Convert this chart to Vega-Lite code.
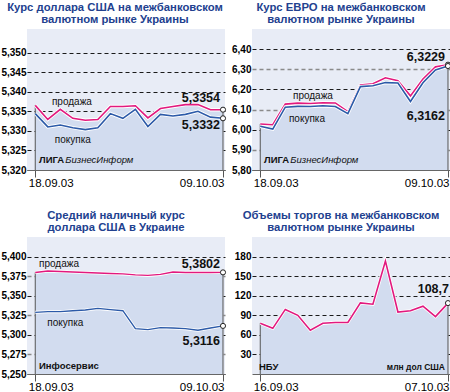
{
"$schema": "https://vega.github.io/schema/vega-lite/v6.json",
"padding": {"left": 0, "top": 1, "right": 0, "bottom": 0},
"background": "white",
"datasets": {
"usd": [
{"i":0,"d":"18.09.03","sale":5.3365,"buy":5.3344},
{"i":1,"d":"19.09.03","sale":5.3329,"buy":5.3310},
{"i":2,"d":"22.09.03","sale":5.3355,"buy":5.3315},
{"i":3,"d":"23.09.03","sale":5.3332,"buy":5.3308},
{"i":4,"d":"24.09.03","sale":5.3327,"buy":5.3303},
{"i":5,"d":"25.09.03","sale":5.3329,"buy":5.3308},
{"i":6,"d":"26.09.03","sale":5.3362,"buy":5.3344},
{"i":7,"d":"29.09.03","sale":5.3362,"buy":5.3332},
{"i":8,"d":"30.09.03","sale":5.3364,"buy":5.3355},
{"i":9,"d":"01.10.03","sale":5.3333,"buy":5.3311},
{"i":10,"d":"02.10.03","sale":5.3357,"buy":5.3342},
{"i":11,"d":"03.10.03","sale":5.3362,"buy":5.3338},
{"i":12,"d":"06.10.03","sale":5.3367,"buy":5.3342},
{"i":13,"d":"07.10.03","sale":5.3367,"buy":5.3350},
{"i":14,"d":"08.10.03","sale":5.3354,"buy":5.3335},
{"i":15,"d":"09.10.03","sale":5.3354,"buy":5.3332}
],
"eur": [
{"i":0,"d":"18.09.03","sale":6.028,"buy":6.017},
{"i":1,"d":"19.09.03","sale":6.025,"buy":6.003},
{"i":2,"d":"22.09.03","sale":6.127,"buy":6.112},
{"i":3,"d":"23.09.03","sale":6.132,"buy":6.116},
{"i":4,"d":"24.09.03","sale":6.130,"buy":6.115},
{"i":5,"d":"25.09.03","sale":6.134,"buy":6.119},
{"i":6,"d":"26.09.03","sale":6.133,"buy":6.115},
{"i":7,"d":"29.09.03","sale":6.090,"buy":6.080},
{"i":8,"d":"30.09.03","sale":6.222,"buy":6.214},
{"i":9,"d":"01.10.03","sale":6.228,"buy":6.218},
{"i":10,"d":"02.10.03","sale":6.258,"buy":6.234},
{"i":11,"d":"03.10.03","sale":6.243,"buy":6.232},
{"i":12,"d":"06.10.03","sale":6.168,"buy":6.140},
{"i":13,"d":"07.10.03","sale":6.252,"buy":6.233},
{"i":14,"d":"08.10.03","sale":6.312,"buy":6.297},
{"i":15,"d":"09.10.03","sale":6.3229,"buy":6.3162}
],
"cash": [
{"i":0,"d":"18.09.03","sale":5.3800,"buy":5.3290},
{"i":1,"d":"19.09.03","sale":5.3819,"buy":5.3299},
{"i":2,"d":"22.09.03","sale":5.3813,"buy":5.3299},
{"i":3,"d":"23.09.03","sale":5.3806,"buy":5.3311},
{"i":4,"d":"24.09.03","sale":5.3800,"buy":5.3319},
{"i":5,"d":"25.09.03","sale":5.3794,"buy":5.3340},
{"i":6,"d":"26.09.03","sale":5.3788,"buy":5.3324},
{"i":7,"d":"29.09.03","sale":5.3782,"buy":5.3311},
{"i":8,"d":"30.09.03","sale":5.3770,"buy":5.3081},
{"i":9,"d":"01.10.03","sale":5.3763,"buy":5.3069},
{"i":10,"d":"02.10.03","sale":5.3776,"buy":5.3094},
{"i":11,"d":"03.10.03","sale":5.3807,"buy":5.3090},
{"i":12,"d":"06.10.03","sale":5.3800,"buy":5.3081},
{"i":13,"d":"07.10.03","sale":5.3800,"buy":5.3061},
{"i":14,"d":"08.10.03","sale":5.3800,"buy":5.3090},
{"i":15,"d":"09.10.03","sale":5.3802,"buy":5.3116}
],
"vol": [
{"i":0,"d":"16.09.03","v":77.7},
{"i":1,"d":"17.09.03","v":70},
{"i":2,"d":"18.09.03","v":99},
{"i":3,"d":"19.09.03","v":90},
{"i":4,"d":"22.09.03","v":67},
{"i":5,"d":"23.09.03","v":77.7},
{"i":6,"d":"24.09.03","v":79},
{"i":7,"d":"25.09.03","v":79},
{"i":8,"d":"26.09.03","v":109},
{"i":9,"d":"29.09.03","v":107},
{"i":10,"d":"30.09.03","v":173},
{"i":11,"d":"01.10.03","v":95},
{"i":12,"d":"02.10.03","v":97},
{"i":13,"d":"03.10.03","v":104},
{"i":14,"d":"06.10.03","v":88},
{"i":15,"d":"07.10.03","v":108.7}
]
},
"columns": 2,
"spacing": {"row": 67, "column": 27},
"bounds": "flush",
"concat": [
{
"width": 198, "height": 141,
"title": {"text": ["Курс доллара США на межбанковском", "валютном рынке Украины"], "dx": -11},
"data": {"name": "usd"},
"layer": [
{"mark": {"type": "area", "color": "#d2dcef"},
 "encoding": {
  "x": {"field": "i", "type": "quantitative", "scale": {"domain": [-0.66, 15.16], "nice": false, "zero": false},
        "axis": {"values": [0, 15], "tickCount": 20, "labelExpr": "datum.value == 0 ? '18.09.03' : '09.10.03'",
                 "labelAlign": {"condition": {"test": "datum.value == 0", "value": "left"}, "value": "right"},
                 "labelOffset": {"condition": {"test": "datum.value == 0", "value": -7}, "value": 1}}},
  "y": {"field": "sale", "type": "quantitative", "scale": {"domain": [5.32, 5.356], "nice": false, "zero": false},
        "axis": {"values": [5.32, 5.325, 5.33, 5.335, 5.34, 5.345, 5.35], "tickCount": 20, "format": ".3f"}},
  "y2": {"datum": 5.32}}},
{"transform": [{"filter": "datum.i == 0 || datum.i == 15"}],
 "mark": {"type": "rule", "color": "#555", "strokeWidth": 1},
 "encoding": {"x": {"field": "i", "type": "quantitative"}, "y": {"field": "sale", "type": "quantitative"}, "y2": {"datum": 5.32}}},
{"mark": {"type": "line", "color": "white", "strokeWidth": 3.4},
 "encoding": {"x": {"field": "i", "type": "quantitative"}, "y": {"field": "sale", "type": "quantitative"}}},
{"mark": {"type": "line", "color": "#e2197e", "strokeWidth": 1.6},
 "encoding": {"x": {"field": "i", "type": "quantitative"}, "y": {"field": "sale", "type": "quantitative"}}},
{"mark": {"type": "line", "color": "white", "strokeWidth": 3.4},
 "encoding": {"x": {"field": "i", "type": "quantitative"}, "y": {"field": "buy", "type": "quantitative"}}},
{"mark": {"type": "line", "color": "#2c5aa8", "strokeWidth": 1.6},
 "encoding": {"x": {"field": "i", "type": "quantitative"}, "y": {"field": "buy", "type": "quantitative"}}},
{"transform": [{"filter": "datum.i == 15"}],
 "mark": {"type": "point", "filled": true, "fill": "white", "stroke": "#222", "strokeWidth": 1, "size": 26, "opacity": 1},
 "encoding": {"x": {"field": "i", "type": "quantitative"}, "y": {"field": "sale", "type": "quantitative"}}},
{"transform": [{"filter": "datum.i == 15"}],
 "mark": {"type": "point", "filled": true, "fill": "white", "stroke": "#222", "strokeWidth": 1, "size": 26, "opacity": 1},
 "encoding": {"x": {"field": "i", "type": "quantitative"}, "y": {"field": "buy", "type": "quantitative"}}},
{"transform": [{"filter": "datum.i == 15"}],
 "mark": {"type": "text", "align": "right", "dx": -3, "dy": -11.5, "fontSize": 12.5, "fontWeight": "bold", "color": "#111"},
 "encoding": {"x": {"field": "i", "type": "quantitative"}, "y": {"field": "sale", "type": "quantitative"}, "text": {"field": "sale", "type": "quantitative", "format": ".4f"}}},
{"transform": [{"filter": "datum.i == 15"}],
 "mark": {"type": "text", "align": "right", "dx": -3, "dy": 6.5, "fontSize": 12.5, "fontWeight": "bold", "color": "#111"},
 "encoding": {"x": {"field": "i", "type": "quantitative"}, "y": {"field": "buy", "type": "quantitative"}, "text": {"field": "buy", "type": "quantitative", "format": ".4f"}}},
{"data": {"values": [{}]}, "mark": {"type": "text", "text": "продажа", "align": "center", "fontSize": 10},
 "encoding": {"x": {"datum": 2.93}, "y": {"datum": 5.3373}}},
{"data": {"values": [{}]}, "mark": {"type": "text", "text": "покупка", "align": "center", "fontSize": 10},
 "encoding": {"x": {"datum": 3.0}, "y": {"datum": 5.3277}}},
{"data": {"values": [{}]}, "mark": {"type": "text", "text": "ЛИГА", "align": "left", "fontSize": 9.5, "fontWeight": "bold"},
 "encoding": {"x": {"datum": 0.3}, "y": {"datum": 5.32255}}},
{"data": {"values": [{}]}, "mark": {"type": "text", "text": "БизнесИнформ", "align": "left", "fontSize": 9.5, "fontStyle": "italic"},
 "encoding": {"x": {"datum": 2.4}, "y": {"datum": 5.32255}}}
]
},
{
"width": 198, "height": 141,
"title": {"text": ["Курс ЕВРО на межбанковском", "валютном рынке Украины"], "dx": -10},
"data": {"name": "eur"},
"layer": [
{"mark": {"type": "area", "color": "#d2dcef"},
 "encoding": {
  "x": {"field": "i", "type": "quantitative", "scale": {"domain": [-0.66, 15.16], "nice": false, "zero": false},
        "axis": {"values": [0, 15], "tickCount": 20, "labelExpr": "datum.value == 0 ? '18.09.03' : '09.10.03'",
                 "labelAlign": {"condition": {"test": "datum.value == 0", "value": "left"}, "value": "right"},
                 "labelOffset": {"condition": {"test": "datum.value == 0", "value": -7}, "value": 1}}},
  "y": {"field": "sale", "type": "quantitative", "scale": {"domain": [5.8, 6.5], "nice": false, "zero": false},
        "axis": {"values": [5.8, 5.9, 6.0, 6.1, 6.2, 6.3, 6.4], "tickCount": 20, "format": ".2f",
                 "gridColor": {"condition": {"test": "round(datum.value * 10) % 2 == 1", "value": "#8a8a8a"}, "value": "#1a1a1a"},
                 "gridWidth": {"condition": {"test": "round(datum.value * 10) % 2 == 1", "value": 1.5}, "value": 1}}},
  "y2": {"datum": 5.8}}},
{"transform": [{"filter": "datum.i == 0 || datum.i == 15"}],
 "mark": {"type": "rule", "color": "#555", "strokeWidth": 1},
 "encoding": {"x": {"field": "i", "type": "quantitative"}, "y": {"field": "sale", "type": "quantitative"}, "y2": {"datum": 5.8}}},
{"mark": {"type": "line", "color": "white", "strokeWidth": 3.4},
 "encoding": {"x": {"field": "i", "type": "quantitative"}, "y": {"field": "sale", "type": "quantitative"}}},
{"mark": {"type": "line", "color": "#e2197e", "strokeWidth": 1.6},
 "encoding": {"x": {"field": "i", "type": "quantitative"}, "y": {"field": "sale", "type": "quantitative"}}},
{"mark": {"type": "line", "color": "white", "strokeWidth": 3.4},
 "encoding": {"x": {"field": "i", "type": "quantitative"}, "y": {"field": "buy", "type": "quantitative"}}},
{"mark": {"type": "line", "color": "#2c5aa8", "strokeWidth": 1.6},
 "encoding": {"x": {"field": "i", "type": "quantitative"}, "y": {"field": "buy", "type": "quantitative"}}},
{"transform": [{"filter": "datum.i == 15"}],
 "mark": {"type": "point", "filled": true, "fill": "white", "stroke": "#222", "strokeWidth": 1, "size": 26, "opacity": 1},
 "encoding": {"x": {"field": "i", "type": "quantitative"}, "y": {"field": "sale", "type": "quantitative"}}},
{"transform": [{"filter": "datum.i == 15"}],
 "mark": {"type": "point", "filled": true, "fill": "white", "stroke": "#222", "strokeWidth": 1, "size": 26, "opacity": 1},
 "encoding": {"x": {"field": "i", "type": "quantitative"}, "y": {"field": "buy", "type": "quantitative"}}},
{"transform": [{"filter": "datum.i == 15"}],
 "mark": {"type": "text", "align": "right", "dx": -3, "dy": -7.5, "fontSize": 12.5, "fontWeight": "bold", "color": "#111"},
 "encoding": {"x": {"field": "i", "type": "quantitative"}, "y": {"field": "sale", "type": "quantitative"}, "text": {"field": "sale", "type": "quantitative", "format": ".4f"}}},
{"transform": [{"filter": "datum.i == 15"}],
 "mark": {"type": "text", "align": "right", "dx": -3, "dy": 50, "fontSize": 12.5, "fontWeight": "bold", "color": "#111"},
 "encoding": {"x": {"field": "i", "type": "quantitative"}, "y": {"field": "buy", "type": "quantitative"}, "text": {"field": "buy", "type": "quantitative", "format": ".4f"}}},
{"data": {"values": [{}]}, "mark": {"type": "text", "text": "продажа", "align": "center", "fontSize": 10},
 "encoding": {"x": {"datum": 4.21}, "y": {"datum": 6.165}}},
{"data": {"values": [{}]}, "mark": {"type": "text", "text": "покупка", "align": "center", "fontSize": 10},
 "encoding": {"x": {"datum": 3.73}, "y": {"datum": 6.055}}},
{"data": {"values": [{}]}, "mark": {"type": "text", "text": "ЛИГА", "align": "left", "fontSize": 9.5, "fontWeight": "bold"},
 "encoding": {"x": {"datum": 0.3}, "y": {"datum": 5.85}}},
{"data": {"values": [{}]}, "mark": {"type": "text", "text": "БизнесИнформ", "align": "left", "fontSize": 9.5, "fontStyle": "italic"},
 "encoding": {"x": {"datum": 2.4}, "y": {"datum": 5.85}}}
]
},
{
"width": 198, "height": 137,
"title": {"text": ["Средний наличный курс", "доллара США в Украине"], "dx": -10},
"data": {"name": "cash"},
"layer": [
{"mark": {"type": "area", "color": "#d2dcef"},
 "encoding": {
  "x": {"field": "i", "type": "quantitative", "scale": {"domain": [-0.66, 15.16], "nice": false, "zero": false},
        "axis": {"values": [0, 15], "tickCount": 20, "labelExpr": "datum.value == 0 ? '18.09.03' : '09.10.03'",
                 "labelAlign": {"condition": {"test": "datum.value == 0", "value": "left"}, "value": "right"},
                 "labelOffset": {"condition": {"test": "datum.value == 0", "value": -7}, "value": 1}}},
  "y": {"field": "sale", "type": "quantitative", "scale": {"domain": [5.25, 5.4255], "nice": false, "zero": false},
        "axis": {"values": [5.25, 5.275, 5.3, 5.325, 5.35, 5.375, 5.4], "tickCount": 20, "format": ".3f",
                 "gridColor": {"condition": {"test": "round(datum.value * 1000) % 50 == 25", "value": "#8a8a8a"}, "value": "#1a1a1a"},
                 "gridWidth": {"condition": {"test": "round(datum.value * 1000) % 50 == 25", "value": 1.6}, "value": 1}}},
  "y2": {"datum": 5.25}}},
{"transform": [{"filter": "datum.i == 0 || datum.i == 15"}],
 "mark": {"type": "rule", "color": "#555", "strokeWidth": 1},
 "encoding": {"x": {"field": "i", "type": "quantitative"}, "y": {"field": "sale", "type": "quantitative"}, "y2": {"datum": 5.25}}},
{"mark": {"type": "line", "color": "white", "strokeWidth": 3},
 "encoding": {"x": {"field": "i", "type": "quantitative"}, "y": {"field": "sale", "type": "quantitative"}}},
{"mark": {"type": "line", "color": "#e2197e", "strokeWidth": 1.4},
 "encoding": {"x": {"field": "i", "type": "quantitative"}, "y": {"field": "sale", "type": "quantitative"}}},
{"mark": {"type": "line", "color": "white", "strokeWidth": 3},
 "encoding": {"x": {"field": "i", "type": "quantitative"}, "y": {"field": "buy", "type": "quantitative"}}},
{"mark": {"type": "line", "color": "#2c5aa8", "strokeWidth": 1.4},
 "encoding": {"x": {"field": "i", "type": "quantitative"}, "y": {"field": "buy", "type": "quantitative"}}},
{"transform": [{"filter": "datum.i == 15"}],
 "mark": {"type": "point", "filled": true, "fill": "white", "stroke": "#222", "strokeWidth": 1, "size": 26, "opacity": 1},
 "encoding": {"x": {"field": "i", "type": "quantitative"}, "y": {"field": "sale", "type": "quantitative"}}},
{"transform": [{"filter": "datum.i == 15"}],
 "mark": {"type": "point", "filled": true, "fill": "white", "stroke": "#222", "strokeWidth": 1, "size": 26, "opacity": 1},
 "encoding": {"x": {"field": "i", "type": "quantitative"}, "y": {"field": "buy", "type": "quantitative"}}},
{"transform": [{"filter": "datum.i == 15"}],
 "mark": {"type": "text", "align": "right", "dx": -3, "dy": -8.5, "fontSize": 12.5, "fontWeight": "bold", "color": "#111"},
 "encoding": {"x": {"field": "i", "type": "quantitative"}, "y": {"field": "sale", "type": "quantitative"}, "text": {"field": "sale", "type": "quantitative", "format": ".4f"}}},
{"transform": [{"filter": "datum.i == 15"}],
 "mark": {"type": "text", "align": "right", "dx": -3, "dy": 15, "fontSize": 12.5, "fontWeight": "bold", "color": "#111"},
 "encoding": {"x": {"field": "i", "type": "quantitative"}, "y": {"field": "buy", "type": "quantitative"}, "text": {"field": "buy", "type": "quantitative", "format": ".4f"}}},
{"data": {"values": [{}]}, "mark": {"type": "text", "text": "продажа", "align": "center", "fontSize": 10},
 "encoding": {"x": {"datum": 1.9}, "y": {"datum": 5.3909}}},
{"data": {"values": [{}]}, "mark": {"type": "text", "text": "покупка", "align": "center", "fontSize": 10},
 "encoding": {"x": {"datum": 2.4}, "y": {"datum": 5.3154}}},
{"data": {"values": [{}]}, "mark": {"type": "text", "text": "Инфосервис", "align": "left", "fontSize": 9.5, "fontWeight": "bold"},
 "encoding": {"x": {"datum": 0.3}, "y": {"datum": 5.2603}}}
]
},
{
"width": 198, "height": 137,
"title": {"text": ["Объемы торгов на межбанковском", "валютном рынке Украины"], "dx": -10},
"data": {"name": "vol"},
"layer": [
{"mark": {"type": "area", "color": "#d2dcef"},
 "encoding": {
  "x": {"field": "i", "type": "quantitative", "scale": {"domain": [-0.66, 15.16], "nice": false, "zero": false},
        "axis": {"values": [0, 15], "tickCount": 20, "labelExpr": "datum.value == 0 ? '16.09.03' : '07.10.03'",
                 "labelAlign": {"condition": {"test": "datum.value == 0", "value": "left"}, "value": "right"},
                 "labelOffset": {"condition": {"test": "datum.value == 0", "value": -7}, "value": 1}}},
  "y": {"field": "v", "type": "quantitative", "scale": {"domain": [0, 210], "nice": false, "zero": false},
        "axis": {"values": [30, 60, 90, 120, 150, 180], "tickCount": 20, "format": "d"}},
  "y2": {"datum": 0}}},
{"transform": [{"filter": "datum.i == 0 || datum.i == 15"}],
 "mark": {"type": "rule", "color": "#555", "strokeWidth": 1},
 "encoding": {"x": {"field": "i", "type": "quantitative"}, "y": {"field": "v", "type": "quantitative"}, "y2": {"datum": 0}}},
{"mark": {"type": "line", "color": "white", "strokeWidth": 3.2},
 "encoding": {"x": {"field": "i", "type": "quantitative"}, "y": {"field": "v", "type": "quantitative"}}},
{"mark": {"type": "line", "color": "#e2197e", "strokeWidth": 1.6},
 "encoding": {"x": {"field": "i", "type": "quantitative"}, "y": {"field": "v", "type": "quantitative"}}},
{"transform": [{"filter": "datum.i == 15"}],
 "mark": {"type": "point", "filled": true, "fill": "white", "stroke": "#222", "strokeWidth": 1, "size": 26, "opacity": 1},
 "encoding": {"x": {"field": "i", "type": "quantitative"}, "y": {"field": "v", "type": "quantitative"}}},
{"transform": [{"filter": "datum.i == 15"}],
 "mark": {"type": "text", "align": "right", "dx": 1, "dy": -14, "fontSize": 12.5, "fontWeight": "bold", "color": "#111"},
 "encoding": {"x": {"field": "i", "type": "quantitative"}, "y": {"field": "v", "type": "quantitative"}, "text": {"field": "v", "type": "quantitative", "format": ".1f"}}},
{"data": {"values": [{}]}, "mark": {"type": "text", "text": "НБУ", "align": "left", "fontSize": 9.5, "fontWeight": "bold"},
 "encoding": {"x": {"datum": -0.1}, "y": {"datum": 10.7}}},
{"data": {"values": [{}]}, "mark": {"type": "text", "text": "млн дол США", "align": "right", "fontSize": 8.5, "fontWeight": "bold"},
 "encoding": {"x": {"datum": 14.76}, "y": {"datum": 10.7}}}
]
}
],
"config": {
 "locale": {"number": {"decimal": ",", "thousands": " ", "grouping": [3], "currency": ["", ""]}},
 "font": "Liberation Sans, Arial, sans-serif",
 "view": {"stroke": null, "fill": "#e8ecf6"},
 "title": {"font": "Liberation Sans, Arial, sans-serif", "fontSize": 11.3, "fontWeight": "bold", "color": "#22418f", "anchor": "middle", "frame": "group", "lineHeight": 12, "offset": 0},
 "text": {"font": "Liberation Sans, Arial, sans-serif", "color": "#111", "baseline": "middle"},
 "axis": {"title": null, "labelFont": "Liberation Sans, Arial, sans-serif", "labelColor": "#000", "zindex": 1, "labelOverlap": false},
 "axisY": {"domain": false, "ticks": false, "labelPadding": 1, "labelFontSize": 10, "labelFontWeight": "bold", "grid": true, "gridDash": [4, 3], "gridColor": "#1a1a1a", "gridWidth": 1, "labelBound": false},
 "axisX": {"grid": false, "domainColor": "#666", "tickColor": "#555", "tickSize": 7, "labelFontSize": 11.5, "labelPadding": 0, "labelFontWeight": "normal"}
}
}
